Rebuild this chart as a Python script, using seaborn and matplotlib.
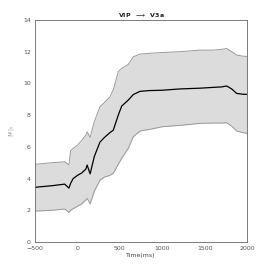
import numpy as np
import pandas as pd
import seaborn as sns
import matplotlib
matplotlib.use("Agg")
import matplotlib.pyplot as plt

# values
time_ms = [-500, -300, -150, -100, -80, -50, 0, 50, 100, 115, 150, 200, 266, 320, 384, 423, 482, 522,
           600, 659, 738, 850, 1000, 1200, 1446, 1600, 1700, 1760, 1820, 1878, 1950, 2000]
mean_val = [3.45, 3.55, 3.65, 3.4, 3.7, 4.0, 4.2, 4.35, 4.6, 4.85, 4.3, 5.4, 6.3, 6.6, 6.9, 7.05, 8.0, 8.57,
            8.95, 9.3, 9.5, 9.55, 9.57, 9.65, 9.7, 9.75, 9.78, 9.84, 9.65, 9.37, 9.32, 9.31]
upper_val = [4.9, 5.0, 5.06, 4.87, 5.76, 5.9, 6.1, 6.4, 6.75, 6.95, 6.6, 7.6, 8.53, 8.8, 9.16, 9.6, 10.74, 10.95,
             11.2, 11.68, 11.85, 11.9, 11.95, 12.0, 12.1, 12.1, 12.15, 12.2, 12.0, 11.79, 11.72, 11.7]
lower_val = [1.95, 2.0, 2.08, 1.87, 2.0, 2.1, 2.25, 2.4, 2.65, 2.75, 2.4, 3.2, 3.9, 4.1, 4.2, 4.33, 4.9, 5.28,
             5.9, 6.64, 7.0, 7.1, 7.27, 7.35, 7.48, 7.5, 7.5, 7.52, 7.3, 7.0, 6.9, 6.85]

df = pd.DataFrame({"Time": time_ms, "Mean": mean_val, "Upper": upper_val, "Lower": lower_val})

sns.set_style("white")
plt.rcParams["font.family"] = ["DejaVu Sans"]

fig = plt.figure(figsize=(2.73, 2.73), dpi=100)
ax = fig.add_axes([35 / 273, 1 - 242 / 273, 212 / 273, 222 / 273])

ax.fill_between(df["Time"], df["Lower"], df["Upper"], color="#dcdcdc", linewidth=0)
sns.lineplot(data=df, x="Time", y="Upper", color="#9a9a9a", linewidth=0.7, ax=ax)
sns.lineplot(data=df, x="Time", y="Lower", color="#9a9a9a", linewidth=0.7, ax=ax)
sns.lineplot(data=df, x="Time", y="Mean", color="black", linewidth=0.9, ax=ax)

ax.set_xlim(-500, 2000)
ax.set_ylim(0, 14)
ax.set_xticks([-500, 0, 500, 1000, 1500, 2000])
ax.set_yticks([0, 2, 4, 6, 8, 10, 12, 14])
ax.tick_params(direction="in", length=2, width=0.5, labelsize=4.5, colors="#555555", pad=3)
for s in ax.spines.values():
    s.set_color("#666666")
    s.set_linewidth(0.6)

ax.set_xlabel("Time(ms)", fontsize=4.5, color="#444444", labelpad=1)
ax.set_ylabel(r"$|\Psi|_{ij}$", fontsize=4, color="#999999", labelpad=4)
ax.set_title(r"VIP  $\longrightarrow$  V3a", fontsize=4.5, color="#222222", fontweight="bold", pad=2)

fig.savefig("out.png", dpi=100)
